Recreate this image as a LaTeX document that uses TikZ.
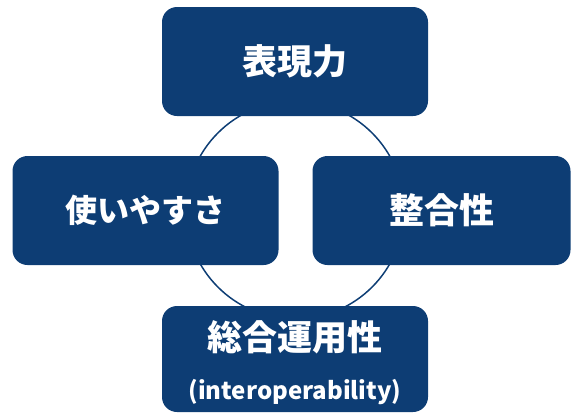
\documentclass[tikz,border=0pt]{standalone}
\usepackage{fontspec}
\newfontfamily\jp{Noto Sans CJK JP}
\definecolor{navy}{HTML}{0D3D74}
\tikzset{
  box/.style={fill=navy, rounded corners=15pt, minimum width=266pt, minimum height=109pt, inner sep=0pt, text=white, font=\jp\bfseries\fontsize{35}{40}\selectfont},
  lbl/.style={text=white, inner sep=0pt},
  ring/.style={draw=navy, line width=1.5pt}
}
\begin{document}
\begin{tikzpicture}[x=1pt,y=-1pt]
\useasboundingbox (0,0) rectangle (571,413);
\coordinate (c) at (295,210);
\draw[ring] (c) circle[radius=109pt];
\node[box] (top) at (295,61.5) {表現力};
\node[box, font=\jp\bfseries\fontsize{32}{38}\selectfont] (left) at (145.5,210.5) {使いやすさ};
\node[box, minimum width=258pt] (right) at (441.5,210.5) {整合性};
\node[box, minimum height=106pt] (bot) at (295,359) {};
\node[lbl, font=\jp\bfseries\fontsize{35}{40}\selectfont] (botjp) at (295,337) {総合運用性};
\node[lbl, font=\jp\bfseries\fontsize{24}{28}\selectfont] (boten) at (295,392) {(interoperability)};
\end{tikzpicture}
\end{document}
